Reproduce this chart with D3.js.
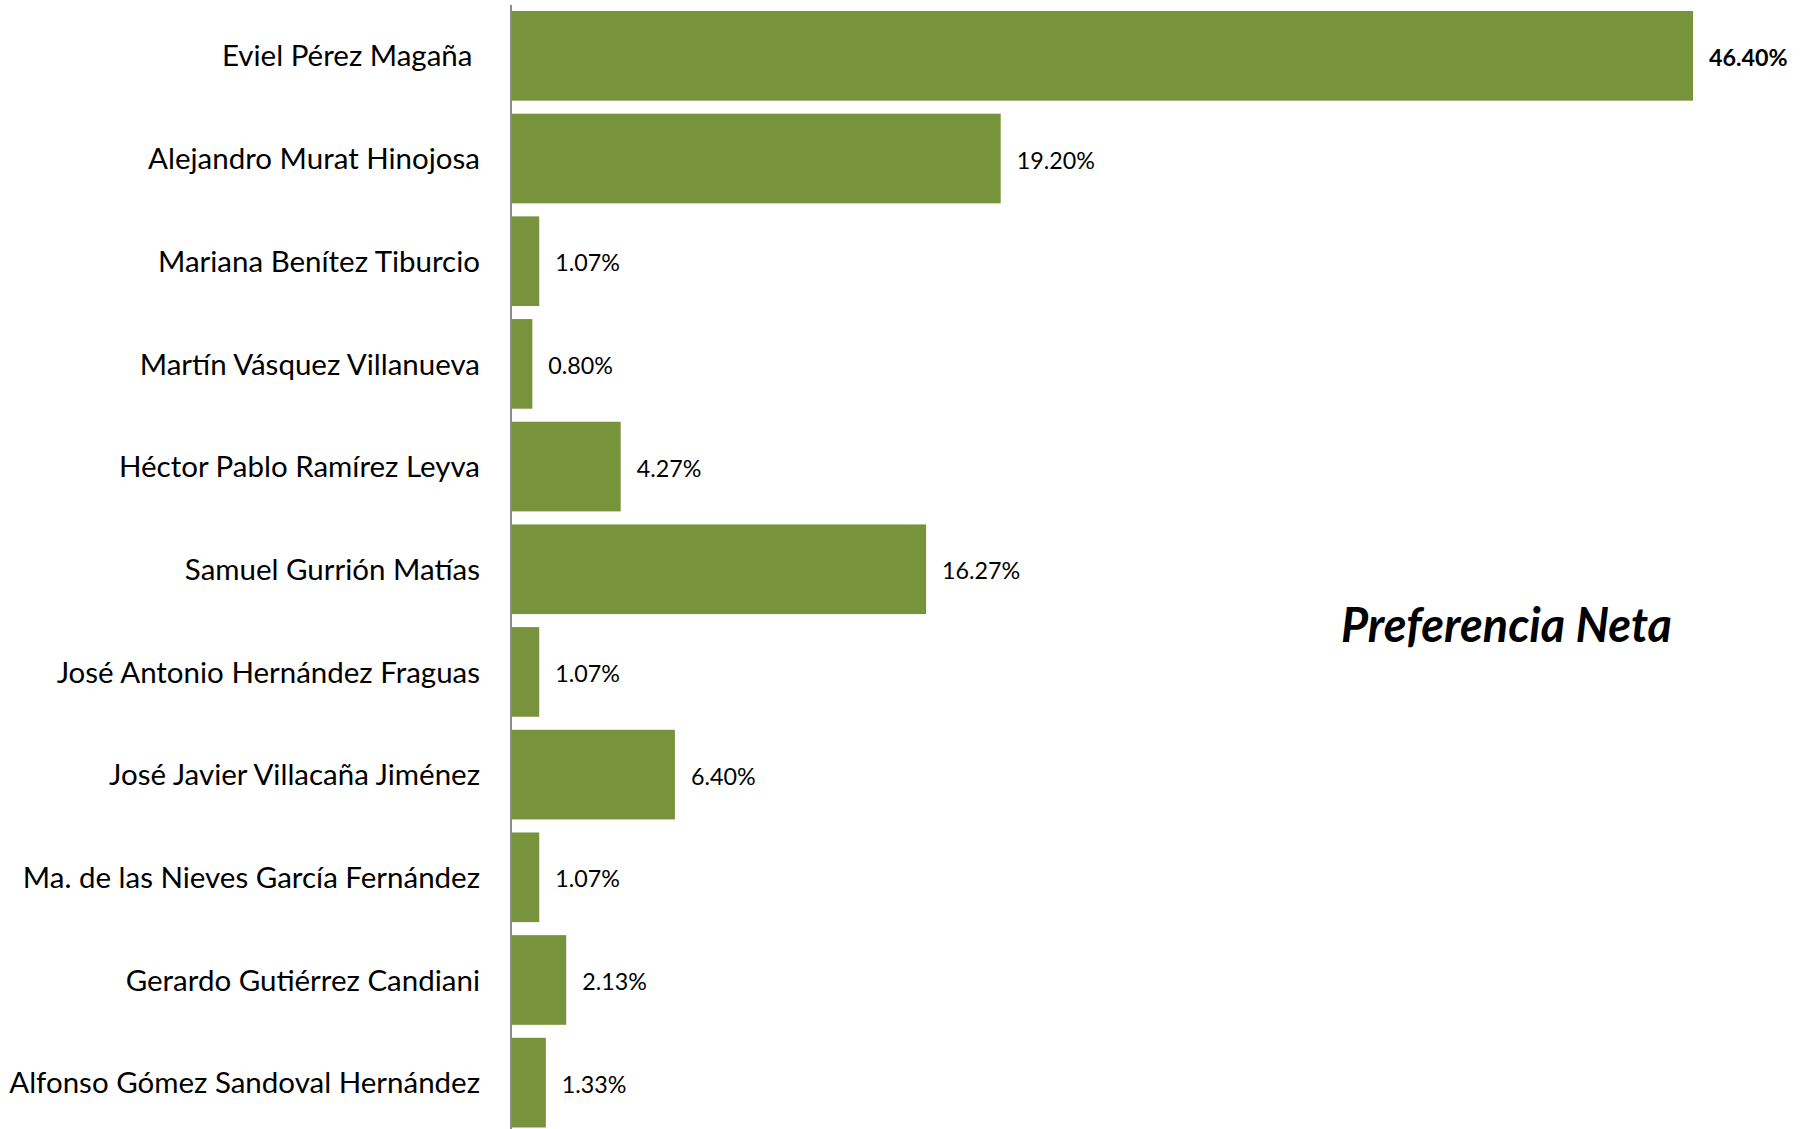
<!DOCTYPE html>
<html><head><meta charset="utf-8">
<script src="https://cdn.jsdelivr.net/npm/d3@7"></script>
<style>
html,body{margin:0;padding:0;background:#fff;}
svg{display:block;}
</style></head>
<body>
<svg id="chart" width="1810" height="1129"></svg>
<script>
const categories = ["Eviel Pérez Magaña ", "Alejandro Murat Hinojosa", "Mariana Benítez Tiburcio", "Martín Vásquez Villanueva", "Héctor Pablo Ramírez Leyva", "Samuel Gurrión Matías", "José Antonio Hernández Fraguas", "José Javier Villacaña Jiménez", "Ma. de las Nieves García Fernández", "Gerardo Gutiérrez Candiani", "Alfonso Gómez Sandoval Hernández"];
const values = [46.40, 19.20, 1.07, 0.80, 4.27, 16.27, 1.07, 6.40, 1.07, 2.13, 1.33];
const valueLabels = ["46.40%", "19.20%", "1.07%", "0.80%", "4.27%", "16.27%", "1.07%", "6.40%", "1.07%", "2.13%", "1.33%"];
const boldIndex = [0];
const title = "Preferencia Neta";

const svg = d3.select("#chart");
const x0 = 512;
const x = d3.scaleLinear().domain([0, d3.max(values)]).range([x0, 1693]);
const y = d3.scaleBand().domain(categories).range([4.5, 1134]).paddingInner(0.127).paddingOuter(0.0635);

const fontLabel = "Lato, 'Open Sans', sans-serif";

svg.append("g").selectAll("rect").data(values).join("rect")
  .attr("x", x0)
  .attr("y", (d,i) => y(categories[i]))
  .attr("width", d => x(d) - x0)
  .attr("height", y.bandwidth())
  .attr("fill", "#77933C");

const ax = svg.append("g").attr("transform", `translate(${x0 - 1},0)`)
  .call(d3.axisLeft(y).tickSize(0).tickPadding(31));
ax.select(".domain").attr("stroke", "#8c8c8c").attr("stroke-width", 2).attr("d", "M0,5V1129");
ax.selectAll("text")
  .attr("fill", "#000")
  .style("font-family", fontLabel)
  .style("white-space", "pre")
  .attr("dy", null)
  .attr("dominant-baseline", null);

// fit label font size so reference widths match
let fs = 28;
ax.selectAll("text").style("font-size", fs + "px");
const ref = ax.selectAll("text").filter(d => d === "Alejandro Murat Hinojosa").node();
const w = ref.getComputedTextLength();
fs = fs * 332 / w;
ax.selectAll("text").style("font-size", fs + "px").attr("y", fs * 0.36);

// value labels
const vl = svg.append("g").selectAll("text").data(values).join("text")
  .attr("x", d => x(d) + 16)
  .attr("y", (d,i) => y(categories[i]) + y.bandwidth()/2 + 10)
  .style("font-family", fontLabel)
  .style("font-weight", (d,i) => boldIndex.includes(i) ? "bold" : "normal")
  .attr("fill", "#000")
  .text((d,i) => valueLabels[i]);
vl.style("font-size", "22px");
const r = vl.filter((d,i) => i === 3).node().getComputedTextLength();
const vfs = 22 * 64.7 / r;
vl.style("font-size", vfs + "px");

const t = svg.append("text")
  .attr("x", 1341).attr("y", 642)
  .style("font-family", fontLabel)
  .style("font-weight", "bold").style("font-style", "italic")
  .attr("fill", "#000")
  .text(title);
t.style("font-size", "36px");
const tw = t.node().getComputedTextLength();
t.style("font-size", (36 * 331 / tw) + "px");
</script>
</body></html>
